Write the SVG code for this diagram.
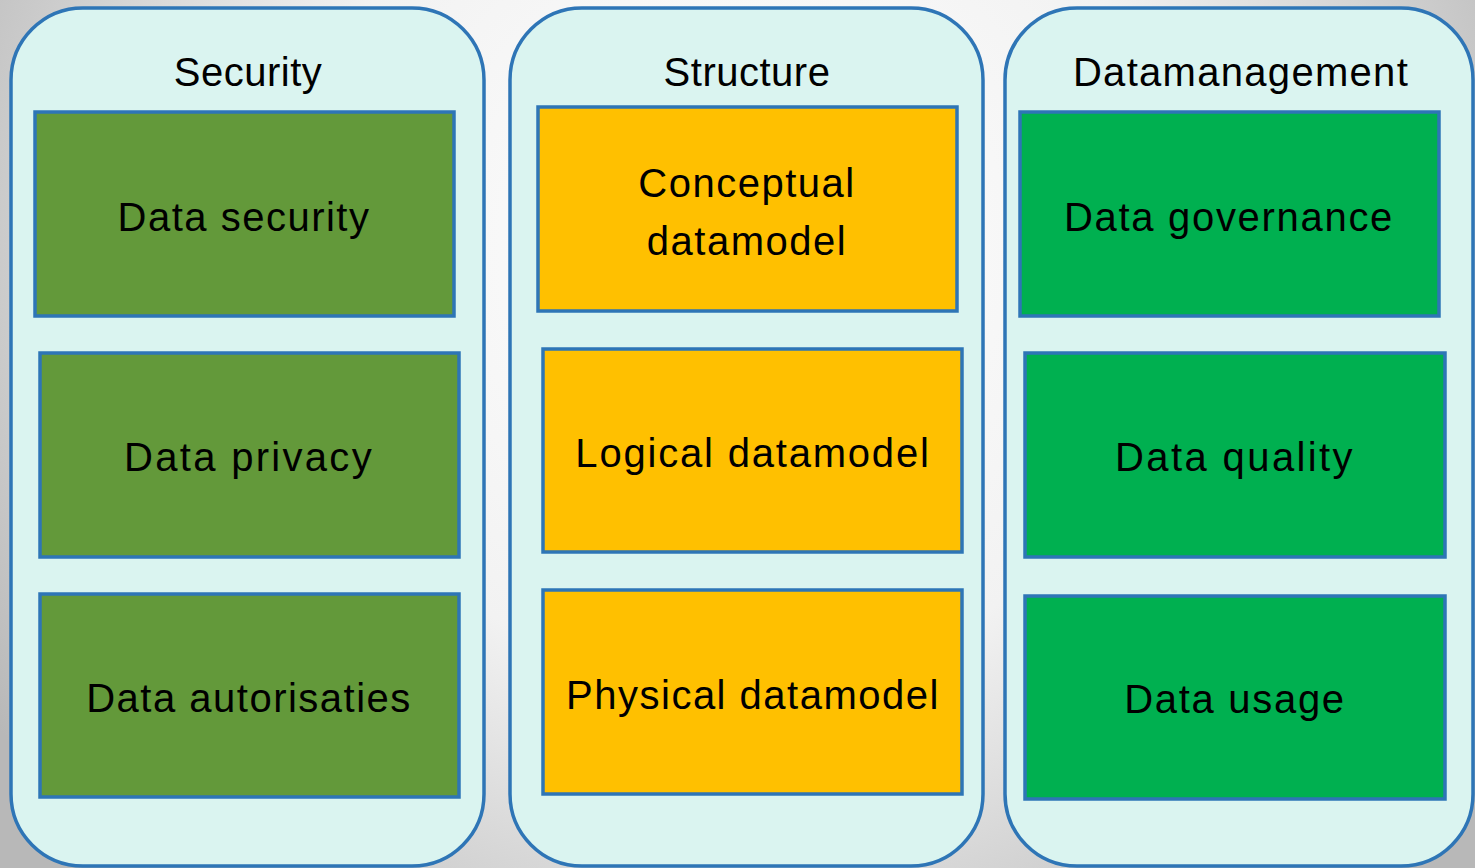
<svg xmlns="http://www.w3.org/2000/svg" width="1475" height="868" viewBox="0 0 1475 868">
<defs>
<radialGradient id="bg" cx="737" cy="250" r="880" gradientUnits="userSpaceOnUse">
<stop offset="0" stop-color="#ffffff"/>
<stop offset="0.5" stop-color="#f2f2f2"/>
<stop offset="1" stop-color="#b8b8b8"/>
</radialGradient>
<style>
.cont{fill:#daf4f0;stroke:#2e75b6;stroke-width:3.5}
.box{stroke:#2e75b6;stroke-width:3.5}
.sec{fill:#63993a}
.str{fill:#ffc000}
.dm{fill:#00b050}
.t{font-family:"Liberation Sans",Arial,sans-serif;font-size:40px;fill:#000;text-anchor:middle}
.h{font-family:"Liberation Sans",Arial,sans-serif;font-size:40px;fill:#000;text-anchor:middle}
</style>
</defs>
<rect x="0" y="0" width="1475" height="868" fill="url(#bg)"/>

<g id="security">
<rect class="cont" x="11" y="8" width="473" height="858" rx="72" ry="72"/>
<text class="h" x="248" y="86" letter-spacing="0.5">Security</text>
</g>
<g id="structure">
<rect class="cont" x="510" y="8" width="473" height="858" rx="72" ry="72"/>
<text class="h" x="747" y="86" letter-spacing="0.5">Structure</text>
</g>
<g id="datamanagement">
<rect class="cont" x="1005" y="8" width="468" height="858" rx="72" ry="72"/>
<text class="h" x="1241" y="86" letter-spacing="1.3">Datamanagement</text>
</g>

<g id="data-security">
<rect class="box sec" x="35" y="112" width="419" height="204"/>
<text class="t" x="244" y="231" letter-spacing="1.5">Data security</text>
</g>
<g id="data-privacy">
<rect class="box sec" x="40" y="353" width="419" height="204"/>
<text class="t" x="249" y="471" letter-spacing="2.3">Data privacy</text>
</g>
<g id="data-autorisaties">
<rect class="box sec" x="40" y="594" width="419" height="203"/>
<text class="t" x="249" y="712" letter-spacing="1.5">Data autorisaties</text>
</g>

<g id="conceptual-datamodel">
<rect class="box str" x="538" y="107" width="419" height="204"/>
<text class="t" x="747" y="197" letter-spacing="1.5">Conceptual</text>
<text class="t" x="747" y="255" letter-spacing="1.5">datamodel</text>
</g>
<g id="logical-datamodel">
<rect class="box str" x="543" y="349" width="419" height="203"/>
<text class="t" x="753" y="467" letter-spacing="1.8">Logical datamodel</text>
</g>
<g id="physical-datamodel">
<rect class="box str" x="543" y="590" width="419" height="204"/>
<text class="t" x="753" y="709" letter-spacing="1.5">Physical datamodel</text>
</g>

<g id="data-governance">
<rect class="box dm" x="1020" y="112" width="419" height="204"/>
<text class="t" x="1229" y="231" letter-spacing="1.7">Data governance</text>
</g>
<g id="data-quality">
<rect class="box dm" x="1025" y="353" width="420" height="204"/>
<text class="t" x="1235" y="471" letter-spacing="2.4">Data quality</text>
</g>
<g id="data-usage">
<rect class="box dm" x="1025" y="596" width="420" height="203"/>
<text class="t" x="1235" y="713" letter-spacing="1.7">Data usage</text>
</g>

<g id="connectors"/>
</svg>
